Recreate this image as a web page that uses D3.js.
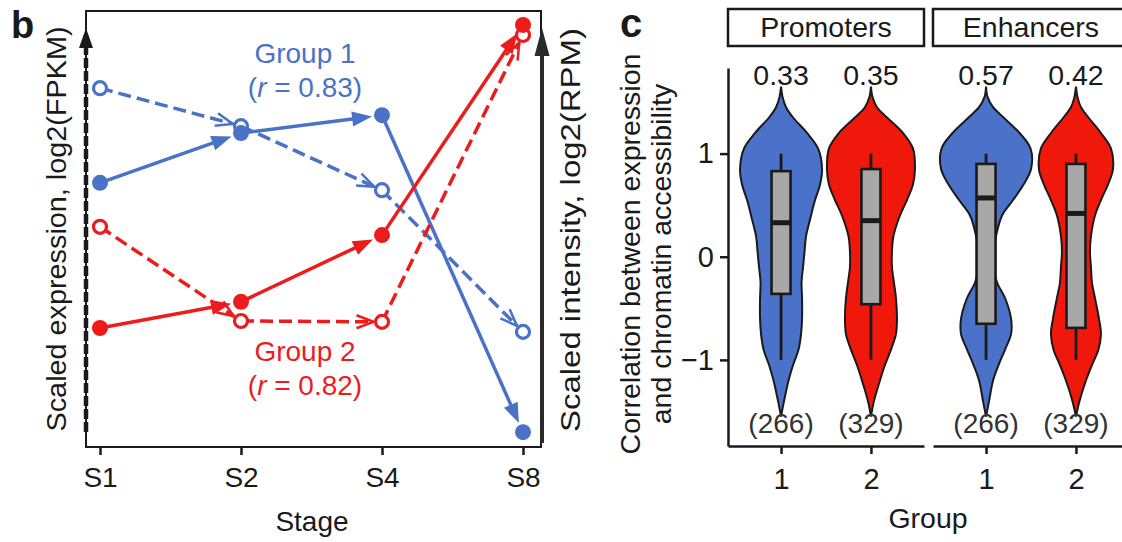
<!DOCTYPE html>
<html>
<head>
<meta charset="utf-8">
<script src="https://cdn.jsdelivr.net/npm/d3@7"></script>
<style>
  html, body { margin: 0; padding: 0; background: #fff; }
  svg { display: block; font-family: "Liberation Sans", Arial, Helvetica, sans-serif; }
</style>
</head>
<body>
<script>
// ---------- Panel b: scaled expression / intensity across stages ----------
const stages = ["S1", "S2", "S4", "S8"];
const group1Expression = [0.823, 0.736, 0.589, 0.264];
const group1Intensity  = [0.606, 0.720, 0.761, 0.034];
const group2Expression = [0.505, 0.289, 0.287, 0.945];
const group2Intensity  = [0.273, 0.333, 0.486, 0.968];
const groupLabels = ["Group 1", "Group 2"];
const groupR = ["0.83", "0.82"];

// ---------- Panel c: correlation violins ----------
const regionTypes = ["Promoters", "Enhancers"];
const groupIds = ["1", "2"];
const medians = [[0.33, 0.35], [0.57, 0.42]];
const q1s = [[-0.36, -0.46], [-0.65, -0.69]];
const q3s = [[0.83, 0.85], [0.90, 0.90]];
const whiskerLow = [[-1, -1], [-1, -1]];
const whiskerHigh = [[1, 1], [1, 1]];
const counts = [[266, 329], [266, 329]];
const corrTicks = [-1, 0, 1];

// kernel density (relative width) sampled along the correlation axis
const densityGrid = [1.65, 1.55, 1.45, 1.35, 1.2, 1.05, 0.85, 0.7, 0.55, 0.4, 0.2, 0.05,
                     -0.1, -0.25, -0.4, -0.6, -0.75, -0.9, -1.05, -1.2, -1.4, -1.55];
const promotersG1Density = [0, 1.5, 5, 12, 26, 37, 41, 39, 34, 30, 25, 23.5, 22, 20.5, 21, 21, 20, 17.5, 12, 7.5, 3, 0];
const promotersG2Density = [0, 1.5, 6, 16, 32, 42, 44, 42, 36, 29, 22.5, 21, 21, 23, 25, 26, 25, 20, 14, 9, 3, 0];
const enhancersG1Density = [0, 1.5, 7, 17.5, 33.5, 44.5, 45, 37.5, 27, 16, 10, 8, 8, 11, 19, 25, 25, 19, 12.5, 7, 3, 0];
const enhancersG2Density = [0, 1.5, 5, 12.5, 25, 35, 37, 32, 25, 19, 15, 14, 15, 16, 19, 23, 25, 22.5, 16, 10, 3.5, 0];
const densities = [[promotersG1Density, promotersG2Density], [enhancersG1Density, enhancersG2Density]];

const BLUE = "#4a72c6";
const RED = "#ec1c1c";
const VBLUE = "#4a72c8";
const VRED = "#f0180a";
const INK = "#1a1a1a";

const svg = d3.select("body").append("svg")
  .attr("width", 1122).attr("height", 542);

// ===== Panel b =====
const x = d3.scalePoint().domain(stages).range([100, 523]);
const y = d3.scaleLinear().domain([0, 1]).range([447, 11]);

const pb = svg.append("g");

pb.append("text").attr("x", 11).attr("y", 38)
  .attr("font-size", 38).attr("font-weight", "bold").attr("fill", INK).text("b");

// frame
pb.append("rect").attr("x", 86).attr("y", 11).attr("width", 455).attr("height", 436)
  .attr("fill", "none").attr("stroke", INK).attr("stroke-width", 2);

// left (expression) axis arrow: dashed
pb.append("line").attr("x1", 86).attr("x2", 86).attr("y1", 432).attr("y2", 40)
  .attr("stroke", INK).attr("stroke-width", 1.5);
pb.append("line").attr("x1", 86).attr("x2", 86).attr("y1", 432).attr("y2", 44)
  .attr("stroke", INK).attr("stroke-width", 4.5).attr("stroke-dasharray", "10,3");
pb.append("path").attr("d", "M86,28 L79,48 L93,48 Z").attr("fill", INK);

// right (intensity) axis arrow: solid
pb.append("line").attr("x1", 542).attr("x2", 542).attr("y1", 443).attr("y2", 50)
  .attr("stroke", "#2a2a2a").attr("stroke-width", 4);
pb.append("path").attr("d", "M542,28 L534.5,56 L549.5,56 Z").attr("fill", "#2a2a2a");

// stage axis
const xAxis = pb.append("g").attr("transform", "translate(0,447)")
  .call(d3.axisBottom(x).tickSize(8).tickSizeOuter(0).tickPadding(12));
xAxis.select(".domain").remove();
xAxis.selectAll(".tick line").attr("stroke", INK).attr("stroke-width", 2.5);
xAxis.selectAll(".tick text").attr("font-size", 28).attr("fill", INK)
  .attr("font-family", "Liberation Sans, Arial, sans-serif");

pb.append("text").attr("x", 312).attr("y", 531).attr("text-anchor", "middle")
  .attr("font-size", 28).attr("fill", INK).text("Stage");

pb.append("text")
  .attr("transform", "translate(66,229) rotate(-90)")
  .attr("text-anchor", "middle").attr("font-size", 28).attr("fill", INK)
  .attr("textLength", 405).attr("lengthAdjust", "spacingAndGlyphs")
  .text("Scaled expression, log2(FPKM)");

pb.append("text")
  .attr("transform", "translate(580,230) rotate(-90)")
  .attr("text-anchor", "middle").attr("font-size", 28).attr("fill", INK)
  .attr("textLength", 404).attr("lengthAdjust", "spacingAndGlyphs")
  .text("Scaled intensity, log2(RPM)");

// one series with arrows on every segment
function drawSeries(values, color, dashed) {
  const pts = values.map((v, i) => [x(stages[i]), y(v)]);
  const r = dashed ? 6.5 : 8;
  const g = pb.append("g");
  for (let i = 0; i < pts.length - 1; i++) {
    const [x0, y0] = pts[i], [x1, y1] = pts[i + 1];
    const dx = x1 - x0, dy = y1 - y0, len = Math.hypot(dx, dy);
    const ux = dx / len, uy = dy / len, nx = -uy, ny = ux;
    const tipX = x1 - ux * (r + 2), tipY = y1 - uy * (r + 2);
    const L = dashed ? 17 : 20, W = dashed ? 6.5 : 7.5;
    const bx = tipX - ux * L, by = tipY - uy * L;
    if (dashed) {
      g.append("line").attr("x1", x0).attr("y1", y0).attr("x2", tipX).attr("y2", tipY)
        .attr("stroke", color).attr("stroke-width", 3.5).attr("stroke-dasharray", "13,6");
      g.append("path")
        .attr("d", `M${bx + nx * W},${by + ny * W} L${tipX},${tipY} L${bx - nx * W},${by - ny * W}`)
        .attr("fill", "none").attr("stroke", color).attr("stroke-width", 2.5)
        .attr("stroke-linejoin", "miter");
    } else {
      g.append("line").attr("x1", x0).attr("y1", y0).attr("x2", bx + ux * 2).attr("y2", by + uy * 2)
        .attr("stroke", color).attr("stroke-width", 3.5);
      g.append("path")
        .attr("d", `M${tipX},${tipY} L${bx + nx * W},${by + ny * W} L${bx - nx * W},${by - ny * W} Z`)
        .attr("fill", color);
    }
  }
  g.selectAll("circle").data(pts).join("circle")
    .attr("cx", d => d[0]).attr("cy", d => d[1]).attr("r", r)
    .attr("fill", dashed ? "#fff" : color)
    .attr("stroke", color).attr("stroke-width", dashed ? 3.2 : 0);
}

drawSeries(group1Expression, BLUE, true);
drawSeries(group1Intensity, BLUE, false);
drawSeries(group2Expression, RED, true);
drawSeries(group2Intensity, RED, false);

function groupLabel(cx, yTop, color, name, r) {
  const t = pb.append("text").attr("text-anchor", "middle").attr("font-size", 28).attr("fill", color);
  t.append("tspan").attr("x", cx).attr("y", yTop).text(name);
  const t2 = pb.append("text").attr("text-anchor", "middle").attr("font-size", 28).attr("fill", color)
    .attr("x", cx).attr("y", yTop + 34);
  t2.append("tspan").text("(");
  t2.append("tspan").attr("font-style", "italic").text("r");
  t2.append("tspan").text(" = " + r + ")");
}
groupLabel(305, 63, BLUE, groupLabels[0], groupR[0]);
groupLabel(305, 361, RED, groupLabels[1], groupR[1]);

// ===== Panel c =====
const pc = svg.append("g");
pc.append("text").attr("x", 620).attr("y", 37)
  .attr("font-size", 40).attr("font-weight", "bold").attr("fill", INK).text("c");

const yv = d3.scaleLinear().domain([-1.835, 1.83]).range([446, 68]);
const panelW = 196;
const panelX = d3.scaleOrdinal().domain(regionTypes).range([728, 933]);
const gx = d3.scalePoint().domain(groupIds).range([0, panelW]).padding(0.59);
const wScale = d3.scaleLinear().domain([0, 45]).range([0, 45]);
const fills = [VBLUE, VRED];

// y axis
const yAxis = pc.append("g").attr("transform", "translate(728,0)")
  .call(d3.axisLeft(yv).tickValues(corrTicks).tickSize(8).tickSizeOuter(0).tickPadding(6)
    .tickFormat(d => d < 0 ? "\u2212" + Math.abs(d) : String(d)));
yAxis.select(".domain").attr("stroke", INK).attr("stroke-width", 2.5);
yAxis.selectAll(".tick line").attr("stroke", INK).attr("stroke-width", 2.5);
yAxis.selectAll(".tick text").attr("font-size", 29).attr("fill", INK)
  .attr("font-family", "Liberation Sans, Arial, sans-serif");

const ttl = pc.append("text").attr("text-anchor", "middle").attr("font-size", 28.5).attr("fill", INK)
  .attr("transform", "translate(640,254) rotate(-90)");
ttl.append("tspan").attr("x", 0).attr("y", 0).text("Correlation between expression");
ttl.append("tspan").attr("x", 0).attr("y", 31).text("and chromatin accessibility");

const area = d3.area()
  .y(d => yv(d[0]))
  .x0(d => -wScale(d[1]))
  .x1(d => wScale(d[1]))
  .curve(d3.curveCatmullRom.alpha(0.5));

regionTypes.forEach((region, pi) => {
  const g = pc.append("g").attr("transform", `translate(${panelX(region)},0)`);

  // strip header
  g.append("rect").attr("x", 0).attr("y", 9).attr("width", panelW).attr("height", 37)
    .attr("fill", "#fff").attr("stroke", INK).attr("stroke-width", 2.5);
  g.append("text").attr("x", panelW / 2).attr("y", 37).attr("text-anchor", "middle")
    .attr("font-size", 28.5).attr("fill", INK).text(region);

  // x axis
  const ax = g.append("g").attr("transform", "translate(0,446)")
    .call(d3.axisBottom(gx).tickSize(8).tickSizeOuter(0).tickPadding(14));
  ax.select(".domain").attr("stroke", INK).attr("stroke-width", 2.5);
  ax.selectAll(".tick line").attr("stroke", INK).attr("stroke-width", 2.5);
  ax.selectAll(".tick text").attr("font-size", 29).attr("fill", INK)
    .attr("font-family", "Liberation Sans, Arial, sans-serif");

  groupIds.forEach((gid, gi) => {
    const cx = gx(gid);
    const vg = g.append("g").attr("transform", `translate(${cx},0)`);
    const dens = densityGrid.map((v, k) => [v, densities[pi][gi][k]]);
    vg.append("path").attr("d", area(dens))
      .attr("fill", fills[gi]).attr("stroke", INK).attr("stroke-width", 2);

    // whiskers
    vg.append("line").attr("x1", 0).attr("x2", 0)
      .attr("y1", yv(whiskerHigh[pi][gi])).attr("y2", yv(q3s[pi][gi]))
      .attr("stroke", INK).attr("stroke-width", 2.8);
    vg.append("line").attr("x1", 0).attr("x2", 0)
      .attr("y1", yv(q1s[pi][gi])).attr("y2", yv(whiskerLow[pi][gi]))
      .attr("stroke", INK).attr("stroke-width", 2.8);
    // box
    vg.append("rect").attr("x", -9.5).attr("width", 19)
      .attr("y", yv(q3s[pi][gi])).attr("height", yv(q1s[pi][gi]) - yv(q3s[pi][gi]))
      .attr("fill", "#a8a8a8").attr("stroke", INK).attr("stroke-width", 2.6);
    vg.append("line").attr("x1", -9.5).attr("x2", 9.5)
      .attr("y1", yv(medians[pi][gi])).attr("y2", yv(medians[pi][gi]))
      .attr("stroke", INK).attr("stroke-width", 5);

    vg.append("text").attr("x", 0).attr("y", 85).attr("text-anchor", "middle")
      .attr("font-size", 28.5).attr("fill", INK).text(medians[pi][gi].toFixed(2));
    vg.append("text").attr("x", 0).attr("y", 433).attr("text-anchor", "middle")
      .attr("font-size", 28).attr("fill", "#333").text(`(${counts[pi][gi]})`);
  });
});

pc.append("text").attr("x", 928).attr("y", 528).attr("text-anchor", "middle")
  .attr("font-size", 28.5).attr("fill", INK).text("Group");
</script>
</body>
</html>
